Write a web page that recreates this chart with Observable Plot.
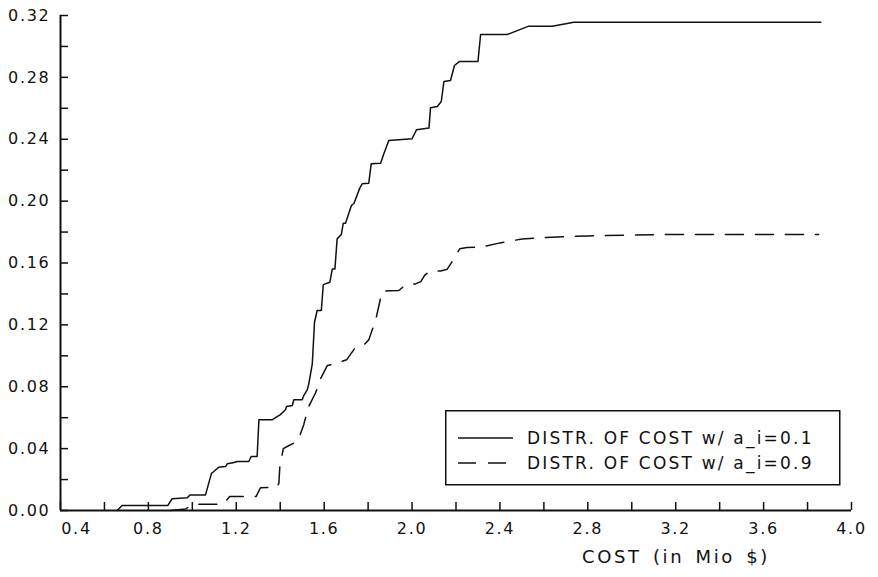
<!DOCTYPE html>
<html><head><meta charset="utf-8">
<script src="https://cdn.jsdelivr.net/npm/d3@7"></script>
<script src="https://cdn.jsdelivr.net/npm/@observablehq/plot@0.6"></script>
<style>
body{margin:0;background:#fff;}
#wrap{position:relative;width:878px;height:577px;background:#fff;}
#legend{position:absolute;left:445px;top:410px;}
</style></head><body><div id="wrap"></div>
<script>
// Series: DISTR. OF COST w/ a_i=0.1 (solid)
const solidCost = [0.658,0.68,0.888,0.908,0.977,0.99,1.06,1.087,1.098,1.12,1.151,1.159,1.19,1.204,1.257,1.268,1.295,1.303,1.363,1.375,1.401,1.424,1.429,1.455,1.462,1.5,1.507,1.523,1.53,1.546,1.556,1.568,1.587,1.596,1.626,1.637,1.649,1.659,1.678,1.687,1.697,1.724,1.735,1.762,1.773,1.803,1.814,1.857,1.87,1.894,2.0,2.02,2.077,2.084,2.115,2.133,2.145,2.175,2.193,2.216,2.3,2.312,2.433,2.531,2.638,2.736,3.86];
const solidProb = [0,0.0032,0.0032,0.0076,0.0082,0.0101,0.0101,0.024,0.0252,0.028,0.0284,0.0302,0.031,0.0317,0.0317,0.0349,0.0349,0.0586,0.0586,0.0597,0.062,0.0651,0.0672,0.0679,0.0716,0.0716,0.0743,0.078,0.0819,0.0948,0.1217,0.1293,0.1293,0.146,0.1476,0.1562,0.1562,0.1756,0.1784,0.1857,0.1857,0.1972,0.1983,0.2084,0.2112,0.2116,0.2241,0.2245,0.23,0.2392,0.2403,0.2461,0.2472,0.2603,0.2612,0.2644,0.2773,0.278,0.2877,0.2903,0.2903,0.3077,0.3077,0.3131,0.3131,0.3157,0.3157];
// Series: DISTR. OF COST w/ a_i=0.9 (dashed)
const dashedCost = [0.90,0.97,1.00,1.14,1.17,1.29,1.31,1.385,1.394,1.398,1.414,1.44,1.48,1.507,1.527,1.561,1.583,1.614,1.65,1.702,1.743,1.78,1.803,1.829,1.838,1.864,1.90,1.94,1.97,2.016,2.04,2.057,2.081,2.13,2.16,2.178,2.217,2.25,2.312,2.4,2.5,2.6,2.8,3.0,3.2,3.85];
const dashedProb = [0,0.001,0.004,0.004,0.009,0.009,0.0147,0.015,0.0177,0.028,0.040,0.042,0.0448,0.0554,0.0664,0.0761,0.085,0.0937,0.095,0.0974,0.1056,0.107,0.1103,0.1211,0.1254,0.1418,0.142,0.1422,0.1459,0.1465,0.148,0.152,0.1548,0.1548,0.156,0.1599,0.1692,0.170,0.1702,0.173,0.1755,0.1765,0.1775,0.178,0.1785,0.1785];

const xLabelTicks = [0.4,0.8,1.2,1.6,2.0,2.4,2.8,3.2,3.6,4.0];
const xMinorTicks = [0.4,0.6,0.8,1.0,1.2,1.4,1.6,1.8,2.0,2.2,2.4,2.6,2.8,3.0,3.2,3.4,3.6,3.8,4.0];
const yLabelTicks = [0,0.04,0.08,0.12,0.16,0.20,0.24,0.28,0.32];
const yMinorTicks = [0,0.02,0.04,0.06,0.08,0.10,0.12,0.14,0.16,0.18,0.20,0.22,0.24,0.26,0.28,0.30,0.32];
const xTitle = "COST (in Mio $)";
const legendLabels = ["DISTR. OF COST w/ a_i=0.1", "DISTR. OF COST w/ a_i=0.9"];
const legendDash = [null, "18,12"];

const solid = solidCost.map((x,i)=>({x, y: solidProb[i]}));
const dashed = dashedCost.map((x,i)=>({x, y: dashedProb[i]}));
const ink = "#111";

const chart = Plot.plot({
  width: 878, height: 577,
  marginLeft: 60, marginRight: 27, marginTop: 15, marginBottom: 67,
  x: {domain: [0.4, 4.0]},
  y: {domain: [0, 0.32]},
  style: {fontFamily: "DejaVu Sans", fontSize: "16px", color: ink, background: "#fff", letterSpacing: "1.7px"},
  marks: [
    Plot.axisX(xMinorTicks, {tickSize: -8, tickFormat: () => "", strokeWidth: 1.5, label: null}),
    Plot.axisX(xLabelTicks.slice(1), {tickSize: 0, tickPadding: 12, tickFormat: d => d.toFixed(1), label: null, fontSize: 16}),
    Plot.axisX(xLabelTicks.slice(0,1), {tickSize: 0, tickPadding: 12, dx: 16, tickFormat: d => d.toFixed(1), label: null, fontSize: 16}),
    Plot.axisY(yMinorTicks, {tickSize: -8, tickFormat: () => "", strokeWidth: 1.5, label: null}),
    Plot.axisY(yLabelTicks, {tickSize: 0, tickPadding: 10, tickFormat: d => d.toFixed(2), label: null, fontSize: 16}),
    Plot.ruleX([0.4], {y1: 0, y2: 0.32, stroke: ink, strokeWidth: 2}),
    Plot.ruleY([0], {x1: 0.4, x2: 4.0, stroke: ink, strokeWidth: 2}),
    Plot.line(solid, {x: "x", y: "y", stroke: ink, strokeWidth: 1.5}),
    Plot.line(dashed, {x: "x", y: "y", stroke: ink, strokeWidth: 1.5, strokeDasharray: "18,12"}),
    Plot.text([xTitle], {frameAnchor: "bottom", dx: 220, dy: 52, fontSize: 18, fill: ink, style: {letterSpacing: "2.6px", wordSpacing: "3px"}})
  ]
});
const wrap = document.getElementById("wrap");
wrap.appendChild(chart);
// title letter spacing (SVG text)
d3.select(chart).selectAll("text").filter(function(){ return this.textContent === xTitle; })
  .style("letter-spacing","2.6px").style("word-spacing","3px");

// legend box
const lg = d3.select(wrap).append("svg").attr("id","legend")
  .attr("width", 396).attr("height", 76)
  .style("font-family","DejaVu Sans").style("font-size","17px").style("letter-spacing","2.2px");
lg.append("rect").attr("x",0.75).attr("y",0.75).attr("width",394).attr("height",74)
  .attr("fill","#fff").attr("stroke",ink).attr("stroke-width",1.5);
legendLabels.forEach((t,i)=>{
  const cy = 28 + i*25;
  lg.append("line").attr("x1",13).attr("x2",68).attr("y1",cy).attr("y2",cy)
    .attr("stroke",ink).attr("stroke-width",1.5).attr("stroke-dasharray", legendDash[i]);
  lg.append("text").attr("x",82).attr("y",cy).attr("dy","0.35em").attr("fill",ink).text(t);
});
</script></body></html>
